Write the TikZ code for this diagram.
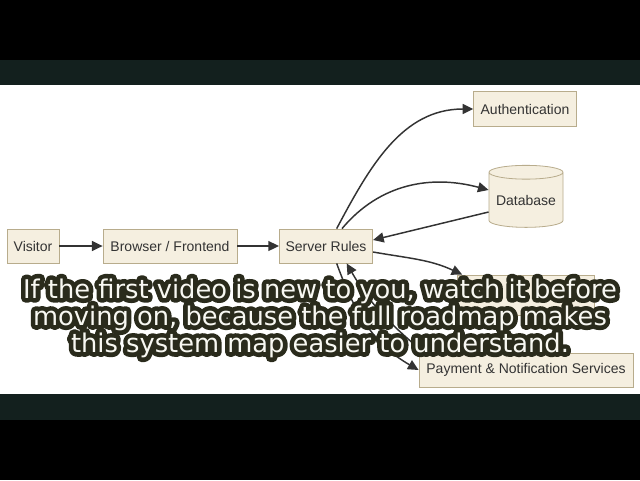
\documentclass[tikz,border=0pt]{standalone}
\usepackage{fontspec}
\setmainfont{Liberation Sans}
\newfontfamily\subtitlefont{DejaVu Sans}
\newfontfamily\subtitleedge[FakeBold=36]{DejaVu Sans}
\usepackage{tikz}
\usetikzlibrary{positioning, arrows.meta, shapes.geometric}
\definecolor{boxfill}{RGB}{245, 239, 224}
\definecolor{boxline}{RGB}{184, 172, 140}
\definecolor{edgegray}{RGB}{51, 51, 51}
\definecolor{bandgreen}{RGB}{19, 32, 30}
\definecolor{subfill}{RGB}{248, 248, 242}
\definecolor{subedge}{RGB}{42, 43, 28}
\newcommand{\subtitletext}{If the first video is new to you, watch it before\\
  moving on, because the full roadmap makes\\this system map easier to understand.}

\begin{document}
\begin{tikzpicture}[x=0.75pt, y=-0.75pt, font=\fontsize{10.5}{12}\selectfont,
    box/.style={draw=boxline, fill=boxfill, line width=0.6pt, text=edgegray,
                inner sep=0pt, minimum height=25.5pt},
    link/.style={draw=edgegray, line width=1.1pt,
                 -{Triangle[length=8pt, width=7.5pt]}},
    sub/.style={align=center}]
  % frame
  \fill[black] (0,0) rectangle (640,480);
  \fill[bandgreen] (0,60) rectangle (640,420);
  \fill[white] (0,85) rectangle (640,394);
  % nodes
  \node[box, minimum width=39pt] (vis) at (33,246) {Visitor};
  \node[box, minimum width=100.5pt] (brw) at (170,246) {Browser / Frontend};
  \node[box, minimum width=70pt] (srv) at (326,246) {Server Rules};
  \node[box, minimum width=77pt, minimum height=26pt] (auth) at (525,109) {Authentication};
  \node[box, cylinder, shape border rotate=90, aspect=0.23,
        minimum width=55.5pt, minimum height=46.5pt] (db) at (526,200) {Database};
  \node[box, minimum width=103pt, minimum height=30pt] (hid) at (526,295) {};
  \node[box, minimum width=160.5pt] (pay) at (526,370) {Payment \& Notification Services};
  % connectors
  \draw[link] (vis) -- (brw);
  \draw[link] (brw) -- (srv);
  \draw[link] ([xshift=8pt]srv.north) to[out=62, in=180] (auth.west);
  \draw[link] ([xshift=12pt]srv.north) to[out=50, in=165] ([yshift=7.5pt]db.west);
  \draw[link] ([yshift=-9pt]db.west) -- ([yshift=4.5pt]srv.east);
  \draw[link] ([yshift=-4.5pt]srv.east) to[out=-10, in=155] ([xshift=4pt]hid.north west);
  \draw[link] ([xshift=8pt]srv.south) to[out=-70, in=150] (pay.west);
  \draw[link] ([xshift=4pt]pay.north west) to[out=140, in=-60] ([xshift=15.5pt]srv.south);
  % subtitle
  \node[sub, text=subedge, line join=round, line cap=round,
        font=\subtitleedge\fontsize{19.3}{20.3}\selectfont]
    (capedge) at (320,318) {\subtitletext};
  \node[sub, text=subfill, font=\subtitlefont\fontsize{19.3}{20.3}\selectfont]
    (cap) at (320,318) {\subtitletext};
\end{tikzpicture}
\end{document}
